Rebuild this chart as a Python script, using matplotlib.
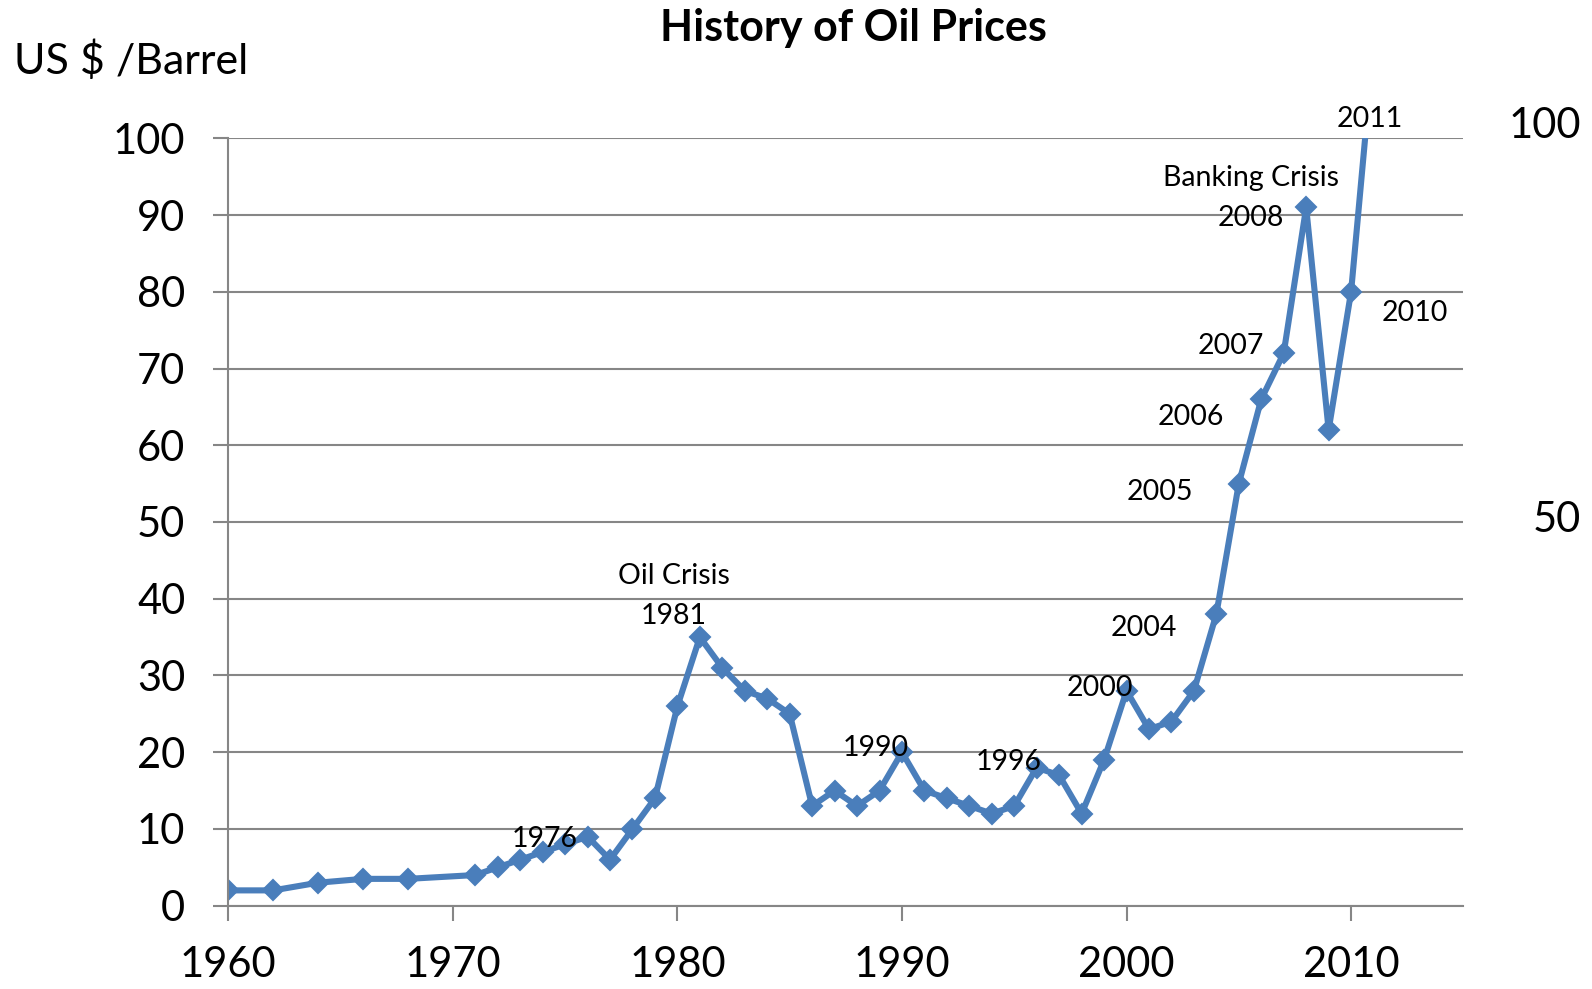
import matplotlib
matplotlib.use("Agg")
import matplotlib.pyplot as plt

plt.rcParams['font.family'] = ['Lato', 'DejaVu Sans']

years = [1960, 1962, 1964, 1966, 1968, 1971, 1972, 1973, 1974, 1975, 1976, 1977,
         1978, 1979, 1980, 1981, 1982, 1983, 1984, 1985, 1986, 1987, 1988, 1989,
         1990, 1991, 1992, 1993, 1994, 1995, 1996, 1997, 1998, 1999, 2000, 2001,
         2002, 2003, 2004, 2005, 2006, 2007, 2008, 2009, 2010, 2011]
prices = [2, 2, 3, 3.5, 3.5, 4, 5, 6, 7, 8, 9, 6,
          10, 14, 26, 35, 31, 28, 27, 25, 13, 15, 13, 15,
          20, 15, 14, 13, 12, 13, 18, 17, 12, 19, 28, 23,
          24, 28, 38, 55, 66, 72, 91, 62, 80, 112]

# labelled points: (text, year, offset in points)
notes = [
    ("1976", 1976, (-31, -2)),
    ("1981", 1981, (-19, 15)),
    ("Oil Crisis", 1981, (-19, 44)),
    ("1990", 1990, (-19, 3)),
    ("1996", 1996, (-20, 4)),
    ("2000", 2000, (-19, 2)),
    ("2004", 2004, (-52, -10)),
    ("2005", 2005, (-57, -6)),
    ("2006", 2006, (-51, -13)),
    ("2007", 2007, (-38, 5)),
    ("2008", 2008, (-40, -8)),
    ("Banking Crisis", 2008, (-40, 21)),
    ("2010", 2010, (46, -15)),
]

blue = "#4A7EBB"
grey = "#868686"

fig = plt.figure(figsize=(15.92, 9.89), dpi=100)
ax = fig.add_axes([0.1434, 0.0842, 0.7758, 0.7760])

ax.plot(years, prices, color=blue, lw=4.4, marker="D", ms=10.5, mec=blue, mew=1.5,
        solid_joinstyle="miter")

ax.set_xlim(1960, 2015)
ax.set_ylim(0, 100)
ax.set_yticks(range(0, 101, 10))
ax.set_xticks(range(1960, 2011, 10))
ax.yaxis.grid(True, color=grey, lw=1.5)
ax.set_axisbelow(True)
for s in ["top", "right"]:
    ax.spines[s].set_visible(False)
for s in ["left", "bottom"]:
    ax.spines[s].set_color(grey)
    ax.spines[s].set_linewidth(1.5)
ax.tick_params(axis="both", length=11, width=1.5, color=grey, labelsize=30,
               direction="out")
ax.tick_params(axis="y", pad=20)
ax.tick_params(axis="x", pad=18)

for txt, yr, off in notes:
    v = prices[years.index(yr)]
    ax.annotate(txt, (yr, v), xytext=off, textcoords="offset points",
                ha="center", va="center", fontsize=20.5)
ax.annotate("2011", (2011, 100), xytext=(-3, 14), textcoords="offset points",
            ha="center", va="center", fontsize=20.5, annotation_clip=False)

fig.text(0.536, 0.972, "History of Oil Prices", ha="center", va="center",
         fontsize=31, fontweight="bold")
fig.text(0.009, 0.939, "US $ /Barrel", ha="left", va="center", fontsize=31)
fig.text(0.993, 0.873, "100", ha="right", va="center", fontsize=30)
fig.text(0.993, 0.474, "50", ha="right", va="center", fontsize=30)

fig.savefig("out.png", dpi=100)
